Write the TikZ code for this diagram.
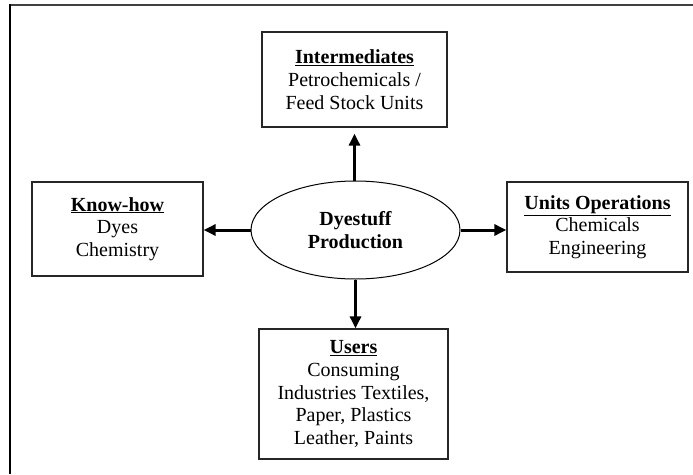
\documentclass[tikz,border=0pt]{standalone}
\usepackage{fontspec}
\setmainfont{Liberation Serif}
\usetikzlibrary{arrows.meta,shapes.geometric}
\tikzset{
  boxnode/.style={draw=black!85, line width=1.3pt, align=center, inner sep=0pt,
    font=\fontsize{20}{22.7}\selectfont},
  ellnode/.style={draw=black, line width=1pt, ellipse, inner sep=0pt, align=center,
    font=\fontsize{20}{23.5}\selectfont\bfseries},
  bigarrow/.style={line width=3pt, -{Triangle[length=12pt,width=11pt]}},
  framel/.style={line width=2pt}
}
\newcommand{\hdr}[1]{\underline{\textbf{#1}}}
\begin{document}
\begin{tikzpicture}[x=1pt,y=-1pt]
\useasboundingbox (0,0) rectangle (693,474);
% outer frame (only top and left edges visible)
\draw[framel, black!75] (9,5) -- (693,5);
\draw[framel, black] (9.5,4) -- (9.5,474);
% nodes
\node[ellnode, minimum width=209pt, minimum height=98pt] (dp) at (355.5,230) {Dyestuff\\Production};
\node[boxnode, minimum width=185pt, minimum height=95pt] (im) at (354.5,79.5) {\hdr{Intermediates}\\Petrochemicals /\\Feed Stock Units};
\node[boxnode, minimum width=171pt, minimum height=94pt] (kh) at (117.5,229) {\hdr{Know-how}\\Dyes\\Chemistry};
\node[boxnode, minimum width=181pt, minimum height=90pt] (uo) at (597.5,227) {\hdr{Units Operations}\\Chemicals\\Engineering};
\node[boxnode, minimum width=189pt, minimum height=130pt] (us) at (353.5,394) {\hdr{Users}\\Consuming\\Industries Textiles,\\Paper, Plastics\\Leather, Paints};
% connectors
\draw[bigarrow, shorten >=6pt] (dp.north -| im.south) -- (im.south);
\draw[bigarrow] (dp.west) -- (kh.east |- dp.west);
\draw[bigarrow] (dp.east) -- (uo.west |- dp.east);
\draw[bigarrow] (dp.south) -- (dp.south |- us.north);
\end{tikzpicture}
\end{document}
